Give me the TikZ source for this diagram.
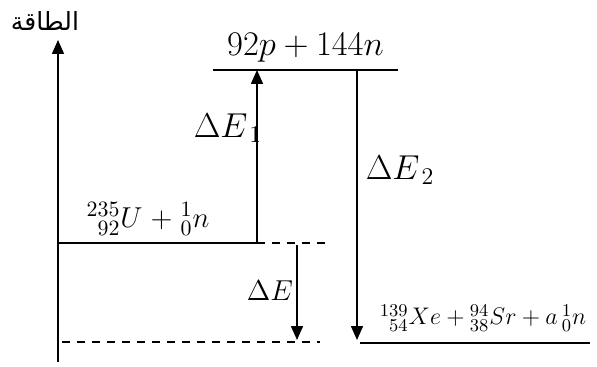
\documentclass[tikz,border=0pt]{standalone}
\usepackage{amsmath}
\usepackage{fontspec}
\newfontfamily\arabicfont[Script=Arabic]{DejaVu Sans}
\TeXXeTstate=1
\usetikzlibrary{arrows.meta,calc,positioning}

\begin{document}
\begin{tikzpicture}[
    x=0.5pt, y=-0.5pt,
    line width=0.9pt,
    level/.style={line width=0.9pt},
    dashlevel/.style={line width=0.9pt, dash pattern=on 4pt off 3.5pt},
    jump/.style={-{Triangle[width=6pt,length=7pt]}, line width=0.8pt},
  ]
    \useasboundingbox (0,0) rectangle (597,367);

    % energy axis
    \coordinate (o) at (58,362);
    \coordinate (ax) at (58,40);
    \draw[jump] (o) -- (ax);
    \node (axlbl) at (45,21) {\arabicfont\fontsize{12.5}{14}\selectfont\beginR الطاقة\endR};

    % separated nucleons
    \coordinate (hiL) at (213,70);
    \coordinate (hiR) at (398,70);
    \coordinate (hiA) at (257,70);
    \coordinate (hiB) at (357,70);
    \draw[level] (hiL) -- (hiR);
    \node[above=0pt of $(hiL)!0.5!(hiR)$, font=\fontsize{17}{20}\selectfont] (nucl)
      {$92p+144n$};

    % uranium + neutron
    \coordinate (uL) at (58,243);
    \coordinate (uM) at (257,243);
    \coordinate (uR) at (326,243);
    \draw[level] (uL) -- (uM);
    \draw[dashlevel] (uM) -- (uR);
    \node[font=\fontsize{15}{17}\selectfont] (react) at (148,219)
      {${}^{235}_{\phantom{2}92}U\;\mathbf{+}\;{}^{1}_{0}n$};

    % products (lower dashed reference)
    \coordinate (bL) at (62,342);
    \coordinate (bR) at (320,342);
    \draw[dashlevel] (bL) -- (bR);

    \coordinate (pL) at (360,343);
    \coordinate (pR) at (590,343);
    \draw[level] (pL) -- (pR);
    \node[font=\fontsize{13.2}{16}\selectfont] (prod) at (483,318)
      {${}^{139}_{\phantom{1}54}Xe+{}^{94}_{38}Sr+a\,{}^{1}_{0}n$};

    % transitions
    \coordinate (dA) at (297,245);
    \coordinate (dB) at (297,340);
    \coordinate (eB) at (357,340);
    \draw[jump] (uM) -- (hiA);
    \draw[jump] (hiB) -- (eB);
    \draw[jump] (dA) -- (dB);

    \node[font=\fontsize{17}{20}\selectfont] (de1) at (228,128) {$\Delta E_{\,1}$};
    \node[font=\fontsize{17}{20}\selectfont] (de2) at (400,170) {$\Delta E_{\,2}$};
    \node[font=\fontsize{15}{17}\selectfont] (de) at (270,291) {$\Delta E$};
  \end{tikzpicture}
\end{document}
